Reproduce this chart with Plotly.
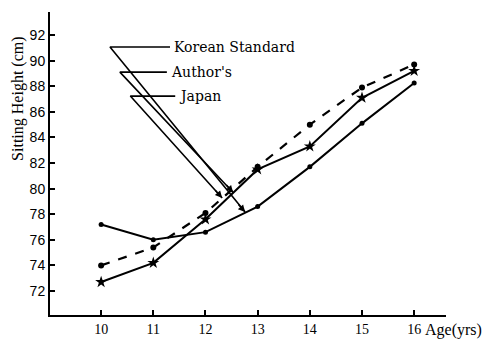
import plotly.graph_objects as go

ages = [10, 11, 12, 13, 14, 15, 16]
dashed_series = [74.0, 75.4, 78.1, 81.7, 85.0, 87.9, 89.7]
star_series = [72.7, 74.2, 77.6, 81.5, 83.3, 87.1, 89.2]
dot_series = [77.2, 76.0, 76.6, 78.6, 81.7, 85.1, 88.25]

y_ticks = [72, 74, 76, 78, 80, 82, 84, 86, 88, 90, 92]
x_ticks = [10, 11, 12, 13, 14, 15, 16]

labels = ["Korean Standard", "Author's", "Japan"]
label_starts = [(10.17, 91.06), (10.36, 89.1), (10.56, 87.23)]
label_hends = [11.32, 11.26, 11.42]
label_ends = [(12.76, 78.17), (12.53, 79.7), (12.32, 79.27)]

fig = go.Figure()
fig.add_trace(go.Scatter(x=ages, y=dashed_series, mode="lines+markers",
                         line=dict(color="black", width=2.2, dash="dash"),
                         marker=dict(symbol="circle", size=6, color="black")))
fig.add_trace(go.Scatter(x=ages, y=star_series, mode="lines+markers",
                         line=dict(color="black", width=2),
                         marker=dict(symbol="star", size=9, color="black")))
fig.add_trace(go.Scatter(x=ages, y=dot_series, mode="lines+markers",
                         line=dict(color="black", width=2),
                         marker=dict(symbol="circle", size=5, color="black")))

# leader lines with arrowheads
for lab, (sx, sy), hx, (ex, ey) in zip(labels, label_starts, label_hends, label_ends):
    fig.add_trace(go.Scatter(x=[hx, sx, ex], y=[sy, sy, ey], mode="lines",
                             line=dict(color="black", width=1.6)))
    fig.add_annotation(x=ex, y=ey, ax=-8, ay=-9, xref="x", yref="y", text="",
                       showarrow=True, arrowhead=2, arrowsize=1, arrowwidth=1.4,
                       arrowcolor="black")
    fig.add_annotation(x=hx, y=sy, xshift=2, text=lab, showarrow=False,
                       xanchor="left", yanchor="middle",
                       font=dict(family="DejaVu Serif", size=14, color="black"))

fig.add_annotation(x=16, y=70.125, xshift=9, yshift=-4, text="Age(yrs)", showarrow=False,
                   xanchor="left", yanchor="top",
                   font=dict(family="Liberation Serif", size=16, color="black"))
fig.add_annotation(xref="paper", yref="paper", x=-0.081, y=0.713, text="Sitting Height (cm)",
                   textangle=-90, showarrow=False, xanchor="center", yanchor="middle",
                   font=dict(family="Liberation Serif", size=16, color="black"))

fig.update_layout(
    width=490, height=342, showlegend=False,
    margin=dict(l=42, r=52, t=4, b=35),
    paper_bgcolor="white", plot_bgcolor="white",
    xaxis=dict(range=[9.02, 16.61], tickvals=x_ticks, automargin=False,
               showgrid=False, zeroline=False, showline=True, linecolor="black", linewidth=2,
               ticks="inside", ticklen=5, tickwidth=2, tickcolor="black",
               tickfont=dict(family="Liberation Serif", size=14, color="black")),
    yaxis=dict(range=[70.125, 93.8], tickvals=y_ticks, automargin=False,
               showgrid=False, zeroline=False, showline=True, linecolor="black", linewidth=2,
               ticks="inside", ticklen=5, tickwidth=2, tickcolor="black",
               tickfont=dict(family="Liberation Sans Narrow, Liberation Sans", size=14,
                             color="black")),
)

fig.write_html("out.html")
